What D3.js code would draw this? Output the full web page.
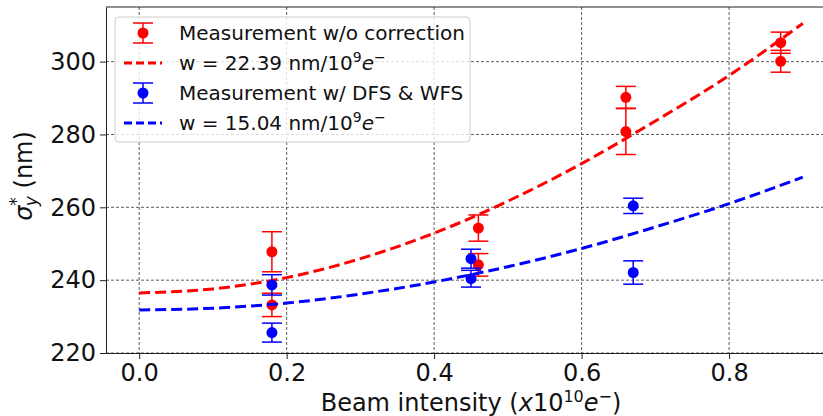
<!DOCTYPE html>
<html>
<head>
<meta charset="utf-8">
<script src="https://cdn.jsdelivr.net/npm/d3@7"></script>
<style>
  body { margin: 0; background: #fff; }
  svg { display: block; font-family: "DejaVu Sans", sans-serif; }
</style>
</head>
<body>
<svg width="823" height="416"></svg>
<script>
// measured points (beam intensity in 1e10 e-, sigma_y* in nm)
const redX = [0.18, 0.18, 0.46, 0.46, 0.66, 0.66, 0.87, 0.87]
const redY = [247.8, 233.2, 254.3, 244.2, 290.2, 280.8, 305.2, 300.1]
const redErr = [5.5, 3.2, 3.6, 3.1, 3.0, 6.3, 2.9, 3.0]

const blueX = [0.18, 0.18, 0.45, 0.45, 0.67, 0.67]
const blueY = [238.7, 225.6, 245.9, 240.4, 260.4, 242.1]
const blueErr = [2.8, 2.6, 2.6, 2.3, 2.1, 3.2]

// fit curves
const fitX = [0, 0.1, 0.2, 0.3, 0.4, 0.5, 0.6, 0.7, 0.8, 0.9]
const redFit = [236.5, 237.6, 240.7, 245.9, 252.9, 261.7, 272.0, 283.7, 296.2, 310.5]
const blueFit = [231.8, 232.3, 233.7, 236.2, 239.5, 243.7, 248.7, 254.6, 261.0, 268.3]

const xTicks = [0, 0.2, 0.4, 0.6, 0.8]
const yTicks = [220, 240, 260, 280, 300]

const margin = { top: 7, left: 106, bottom: 353, right: 836 }
const svg = d3.select("svg")

const x = d3.scaleLinear().domain([-0.045, 0.945]).range([margin.left, margin.right])
const y = d3.scaleLinear().domain([220, 315]).range([margin.bottom, margin.top])

svg.append("clipPath").attr("id", "plot")
	.append("rect")
	.attr("x", margin.left).attr("y", margin.top)
	.attr("width", margin.right - margin.left).attr("height", margin.bottom - margin.top)

// grid
const grid = svg.append("g").attr("stroke", "#333").attr("stroke-width", 0.8).attr("stroke-dasharray", "3,2")
grid.selectAll(".gx").data(xTicks).enter().append("line")
	.attr("x1", (d) => x(d)).attr("x2", (d) => x(d))
	.attr("y1", margin.top).attr("y2", margin.bottom)
grid.selectAll(".gy").data(yTicks).enter().append("line")
	.attr("x1", margin.left).attr("x2", margin.right)
	.attr("y1", (d) => y(d)).attr("y2", (d) => y(d))

const plot = svg.append("g").attr("clip-path", "url(#plot)")

const errorbars = (xs, ys, es, color) => {
	const g = plot.append("g").attr("stroke", color).attr("stroke-width", 1.5)
	const idx = d3.range(xs.length)
	g.selectAll(".v").data(idx).enter().append("line")
		.attr("x1", (i) => x(xs[i])).attr("x2", (i) => x(xs[i]))
		.attr("y1", (i) => y(ys[i] - es[i])).attr("y2", (i) => y(ys[i] + es[i]))
	g.selectAll(".ct").data(idx).enter().append("line")
		.attr("x1", (i) => x(xs[i]) - 10).attr("x2", (i) => x(xs[i]) + 10)
		.attr("y1", (i) => y(ys[i] + es[i])).attr("y2", (i) => y(ys[i] + es[i]))
	g.selectAll(".cb").data(idx).enter().append("line")
		.attr("x1", (i) => x(xs[i]) - 10).attr("x2", (i) => x(xs[i]) + 10)
		.attr("y1", (i) => y(ys[i] - es[i])).attr("y2", (i) => y(ys[i] - es[i]))
	g.selectAll("circle").data(idx).enter().append("circle")
		.attr("cx", (i) => x(xs[i])).attr("cy", (i) => y(ys[i]))
		.attr("r", 5.5).attr("fill", color).attr("stroke", "none")
}

const fitLine = (vals, color) => {
	const line = d3.line()
		.x((d, i) => x(fitX[i]))
		.y((d) => y(d))
		.curve(d3.curveMonotoneX)
	plot.append("path")
		.attr("d", line(vals))
		.attr("fill", "none")
		.attr("stroke", color)
		.attr("stroke-width", 3)
		.attr("stroke-dasharray", "11,5")
}

errorbars(redX, redY, redErr, "#ff0000")
fitLine(redFit, "#ff0000")
errorbars(blueX, blueY, blueErr, "#0000ff")
fitLine(blueFit, "#0000ff")

// axes
const xAxis = d3.axisBottom(x).tickValues(xTicks).tickFormat(d3.format(".1f")).tickSize(6).tickSizeOuter(0).tickPadding(5)
const yAxis = d3.axisLeft(y).tickValues(yTicks).tickFormat(d3.format("d")).tickSize(6).tickSizeOuter(0).tickPadding(4)

const xAxisGroup = svg.append("g").attr("transform", `translate(0, ${margin.bottom})`).call(xAxis)
const yAxisGroup = svg.append("g").attr("transform", `translate(${margin.left}, 0)`).call(yAxis)

;[xAxisGroup, yAxisGroup].forEach((g) => {
	g.selectAll("text").attr("font-size", 24).attr("fill", "#111").attr("font-family", "DejaVu Sans")
	g.selectAll("line").attr("stroke", "#222").attr("stroke-width", 1)
	g.select(".domain").attr("stroke", "#222").attr("stroke-width", 1)
})

svg.append("line")
	.attr("x1", margin.left).attr("x2", margin.right)
	.attr("y1", margin.top).attr("y2", margin.top)
	.attr("stroke", "#222").attr("stroke-width", 1)

// axis labels
const xl = svg.append("text")
	.attr("x", 471).attr("y", 411)
	.attr("text-anchor", "middle").attr("font-size", 24).attr("fill", "#111")
xl.append("tspan").text("Beam intensity (")
xl.append("tspan").attr("font-style", "italic").text("x")
xl.append("tspan").text("10")
xl.append("tspan").attr("font-size", 16).attr("dy", -9).text("10")
xl.append("tspan").attr("font-style", "italic").attr("dy", 9).text("e")
xl.append("tspan").attr("font-size", 16).attr("dy", -9).text("\u2212")
xl.append("tspan").attr("dy", 9).text(")")

const yl = svg.append("text")
	.attr("transform", "translate(32, 176) rotate(-90)")
	.attr("text-anchor", "middle").attr("font-size", 24).attr("fill", "#111")
yl.append("tspan").attr("font-style", "italic").text("\u03c3")
yl.append("tspan").attr("font-size", 17).attr("dy", -10).text("*")
yl.append("tspan").attr("font-size", 17).attr("font-style", "italic").attr("dx", -9).attr("dy", 15).text("y")
yl.append("tspan").attr("dy", -5).text(" (nm)")

// legend
const legend = svg.append("g")
legend.append("rect")
	.attr("x", 115).attr("y", 17).attr("width", 355).attr("height", 125).attr("rx", 4)
	.attr("fill", "#fff").attr("fill-opacity", 0.8).attr("stroke", "#ccc")

const legendItems = [
	{ kind: "err", color: "#ff0000", label: "Measurement w/o correction" },
	{ kind: "fit", color: "#ff0000", w: "22.39" },
	{ kind: "err", color: "#0000ff", label: "Measurement w/ DFS & WFS" },
	{ kind: "fit", color: "#0000ff", w: "15.04" },
]

legendItems.forEach((item, i) => {
	const cy = 33 + i * 30
	const g = legend.append("g")
	if (item.kind === "err") {
		g.append("line").attr("x1", 143).attr("x2", 143).attr("y1", cy - 10).attr("y2", cy + 10)
			.attr("stroke", item.color).attr("stroke-width", 1.5)
		;[cy - 10, cy + 10].forEach((yy) => {
			g.append("line").attr("x1", 133).attr("x2", 153).attr("y1", yy).attr("y2", yy)
				.attr("stroke", item.color).attr("stroke-width", 1.5)
		})
		g.append("circle").attr("cx", 143).attr("cy", cy).attr("r", 5.5).attr("fill", item.color)
		g.append("text").attr("x", 179).attr("y", cy + 7).attr("font-size", 20).attr("fill", "#111").text(item.label)
	} else {
		g.append("line").attr("x1", 124).attr("x2", 162).attr("y1", cy).attr("y2", cy)
			.attr("stroke", item.color).attr("stroke-width", 3).attr("stroke-dasharray", "8,4")
		const t = g.append("text").attr("x", 179).attr("y", cy + 7).attr("font-size", 20).attr("fill", "#111")
		t.append("tspan").text(`w = ${item.w} nm/10`)
		t.append("tspan").attr("font-size", 14).attr("dy", -8).text("9")
		t.append("tspan").attr("font-style", "italic").attr("dy", 8).text("e")
		t.append("tspan").attr("font-size", 14).attr("dy", -8).text("\u2212")
	}
})
</script>
</body>
</html>
